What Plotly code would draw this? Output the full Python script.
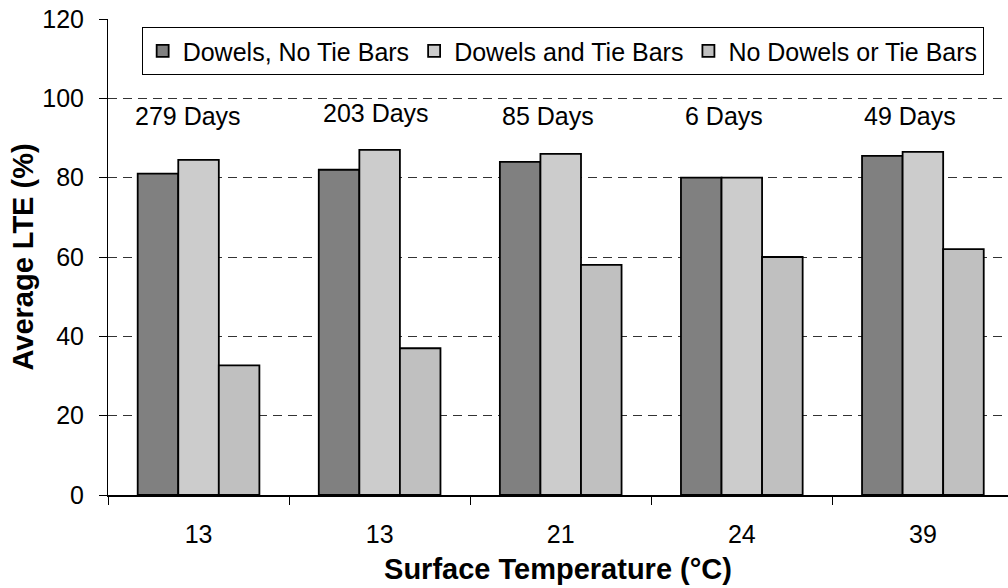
import plotly.graph_objects as go

# ---- data ----
temperatures = ["13", "13", "21", "24", "39"]
day_labels = ["279 Days", "203 Days", "85 Days", "6 Days", "49 Days"]
dowels_no_tie = [81, 82, 84, 80, 85.5]
dowels_and_tie = [84.5, 87, 86, 80, 86.5]
no_dowels_no_tie = [32.7, 37, 58, 60, 62]

series_names = ["Dowels, No Tie Bars", "Dowels and Tie Bars", "No Dowels or Tie Bars"]
series_values = [dowels_no_tie, dowels_and_tie, no_dowels_no_tie]
series_colors = ["#808080", "#cccccc", "#c0c0c0"]

# style: label placement offsets (in category units) and height
label_dx = [-0.06, -0.02, -0.07, -0.10, -0.07]
label_y = [95.5, 96.3, 95.5, 95.5, 95.5]

FONT = "Arial, Liberation Sans, sans-serif"
x_pos = list(range(len(temperatures)))

fig = go.Figure()
for name, vals, col in zip(series_names, series_values, series_colors):
    fig.add_trace(go.Bar(
        x=x_pos, y=vals, name=name,
        marker=dict(color=col, line=dict(color="black", width=1.8)),
    ))

for i, lab in enumerate(day_labels):
    fig.add_annotation(
        x=x_pos[i] + label_dx[i], y=label_y[i], text=lab, showarrow=False,
        xanchor="center", yanchor="middle",
        font=dict(family=FONT, size=25, color="black"),
    )

fig.update_layout(
    width=1008, height=588,
    margin=dict(l=108, r=0, t=19, b=93, autoexpand=False),
    paper_bgcolor="white", plot_bgcolor="white",
    barmode="group", bargap=0.328, bargroupgap=0,
    font=dict(family=FONT, size=25, color="black"),
    showlegend=True,
    legend=dict(
        orientation="h", x=0.0374, y=0.983, xanchor="left", yanchor="top",
        bgcolor="white", bordercolor="black", borderwidth=1,
        font=dict(family=FONT, size=25, color="black"),
        tracegroupgap=0,
    ),
    xaxis=dict(
        range=[-0.5, 4.47], automargin=False,
        tickmode="array", tickvals=x_pos, ticktext=temperatures,
        ticks="", showgrid=False, zeroline=False,
        showline=True, linecolor="black", linewidth=1.5,
        ticklabelstandoff=16,
        tickfont=dict(family=FONT, size=25, color="black"),
        minor=dict(tickmode="array", tickvals=[-0.5, 0.5, 1.5, 2.5, 3.5, 4.5],
                   ticks="outside", ticklen=8, tickcolor="black", tickwidth=1,
                   showgrid=False),
        title=dict(text="<b>Surface Temperature (°C)</b>", standoff=12,
                   font=dict(family=FONT, size=29, color="black")),
    ),
    yaxis=dict(
        range=[0, 120], automargin=False,
        tickmode="array", tickvals=[0, 20, 40, 60, 80, 100, 120],
        ticks="outside", ticklen=8, tickcolor="black", tickwidth=1,
        showline=True, linecolor="black", linewidth=1,
        showgrid=True, gridcolor="#333333", gridwidth=1, griddash="9px,6px",
        zeroline=False, ticklabelstandoff=10,
        tickfont=dict(family=FONT, size=25, color="black"),
        title=dict(text="<b>Average LTE (%)</b>", standoff=0,
                   font=dict(family=FONT, size=29, color="black")),
    ),
)

fig.write_html("out.html", config={"displayModeBar": False},
               post_script="document.body.style.margin='0';document.body.style.overflow='hidden';")
